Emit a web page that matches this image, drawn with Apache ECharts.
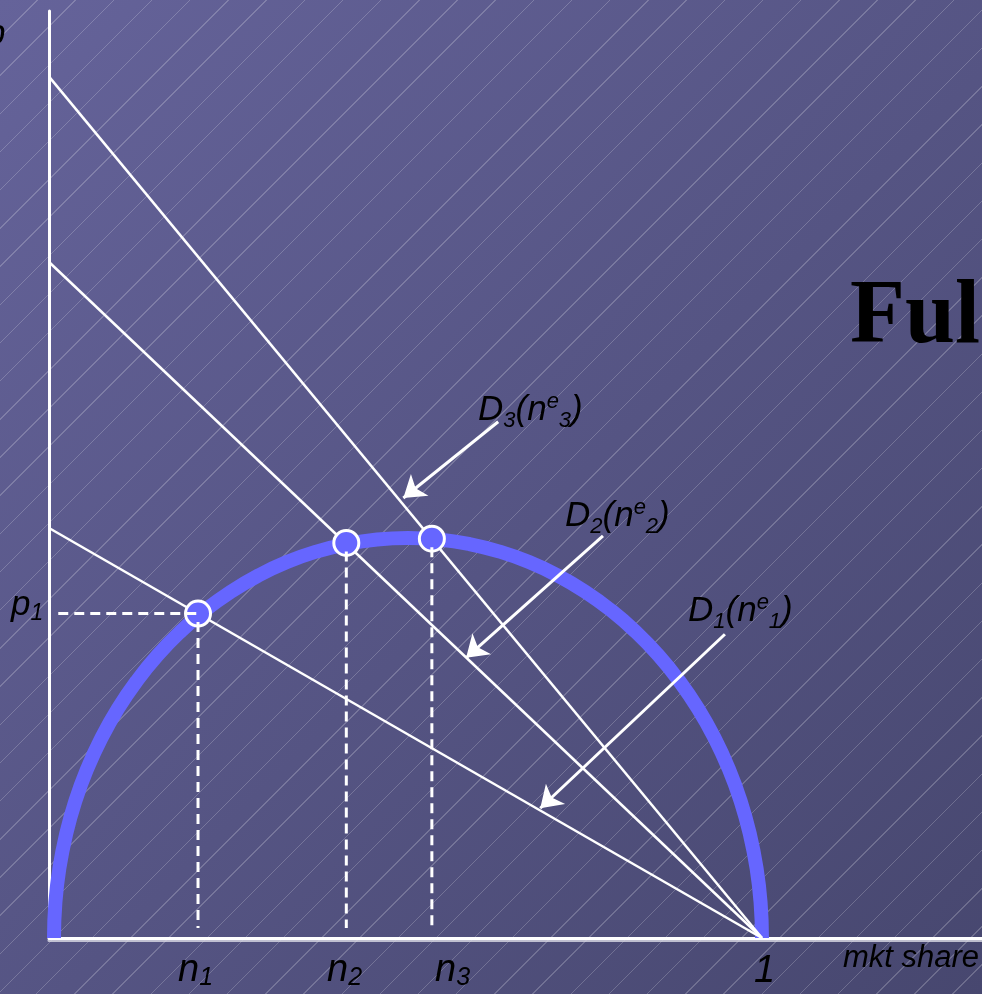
<!DOCTYPE html>
<html>
<head>
<meta charset="utf-8">
<script src="https://cdn.jsdelivr.net/npm/echarts@6/dist/echarts.min.js"></script>
<style>
  html, body { margin: 0; padding: 0; }
  body {
    width: 982px; height: 994px; overflow: hidden;
    background:
      repeating-linear-gradient(135deg, rgba(255,255,255,0) 0 26px, rgba(255,255,255,0.2) 26px 27px),
      linear-gradient(135deg, #65639a 0%, #47476f 100%);
  }
  #chart { width: 982px; height: 994px; }
</style>
</head>
<body>
<div id="chart"></div>
<script>
// market share (n) and price (p)
const curveN = [0.0070, 0.0089, 0.0145, 0.0239, 0.0369, 0.0535, 0.0735, 0.0968, 0.1232, 0.1524,
  0.1844, 0.2187, 0.2553, 0.2937, 0.3337, 0.3750, 0.4173, 0.4602, 0.5035, 0.5468, 0.5897,
  0.6320, 0.6733, 0.7133, 0.7518, 0.7883, 0.8226, 0.8546, 0.8838, 0.9102, 0.9335, 0.9535,
  0.9701, 0.9831, 0.9925, 0.9981, 1.0000];
const curveP = [0, 0.0489, 0.0974, 0.1452, 0.1919, 0.2371, 0.2805, 0.3218, 0.3606, 0.3967,
  0.4297, 0.4595, 0.4858, 0.5084, 0.5272, 0.5419, 0.5525, 0.5589, 0.5610, 0.5589, 0.5525,
  0.5419, 0.5272, 0.5084, 0.4858, 0.4595, 0.4297, 0.3967, 0.3606, 0.3218, 0.2805, 0.2371,
  0.1919, 0.1452, 0.0974, 0.0489, 0];

// demand curves D1..D3: price intercept, all end at n = 1
const demandIntercepts = [0.575, 0.948, 1.208];

// equilibria (circles)
const eqN = [0.209, 0.417, 0.537];
const eqP = [0.455, 0.554, 0.560];

// arrows pointing from labels to the demand lines [from, to]
const arrowFrom = [[0.948, 0.426], [0.777, 0.564], [0.630, 0.724]];
const arrowTo = [[0.689, 0.182], [0.585, 0.393], [0.497, 0.617]];

const xMax = 1.3086, yMax = 1.3;
const FONT = "'Liberation Sans', Arial, sans-serif";
const WHITE = '#ffffff';
const BLUE = '#6666ff';

const chart = echarts.init(document.getElementById('chart'));

const series = [];

series.push({
  name: 'curve', type: 'line', smooth: true, showSymbol: false, z: 2,
  data: curveN.map((n, i) => [n, curveP[i]]),
  lineStyle: { color: BLUE, width: 14 }
});

demandIntercepts.forEach((p0, i) => {
  series.push({
    name: 'D' + (i + 1), type: 'line', showSymbol: false, z: 3,
    data: [[0, p0], [1, 0]],
    lineStyle: { color: WHITE, width: 2.5 }
  });
});

series.push({
  name: 'eq', type: 'scatter', z: 5, symbolSize: 25,
  data: eqN.map((n, i) => [n, eqP[i]]),
  itemStyle: { color: BLUE, borderColor: WHITE, borderWidth: 3, opacity: 1 }
});

// dashed guides
const dash = { color: WHITE, width: 3, type: [10, 6] };
eqN.forEach((n, i) => {
  series.push({
    type: 'line', showSymbol: false, z: 6,
    data: [[n, eqP[i] - 0.012], [n, 0.014]],
    lineStyle: dash
  });
});
series.push({
  type: 'line', showSymbol: false, z: 6,
  data: [[0.013, eqP[0]], [eqN[0], eqP[0]]],
  lineStyle: dash
});

series.push({
  type: 'lines', coordinateSystem: 'cartesian2d', z: 7,
  symbol: ['none', 'arrow'], symbolSize: 21,
  data: arrowFrom.map((f, i) => ({ coords: [f, arrowTo[i]] })),
  lineStyle: { color: WHITE, width: 3, opacity: 1, curveness: 0 }
});

const axisStyle = {
  show: true,
  lineStyle: { color: WHITE, width: 3, shadowColor: 'rgba(220,220,230,0.8)', shadowOffsetY: 2 }
};

function richText(x, y, text, rich) {
  return { type: 'text', x: x, y: y, z: 100,
    style: { text: text, rich: rich, align: 'left', verticalAlign: 'top', textAlign: 'left', textVerticalAlign: 'top' } };
}

const it = (size, lh, extra) => Object.assign({ fontSize: size, fontStyle: 'italic', fontFamily: FONT,
  lineHeight: lh, fill: '#000', color: '#000' }, extra || {});

const richD = {
  d: it(35, 44),
  s: it(22, 14, { verticalAlign: 'bottom' }),
  e: it(22, 18, { verticalAlign: 'top', padding: [3, 0, 0, 0] })
};
const richN = {
  m: it(38, 42),
  s: it(25, 12, { verticalAlign: 'bottom' })
};
const richP = {
  m: it(35, 40),
  s: it(23, 12, { verticalAlign: 'bottom' })
};

const dLabels = [
  { x: 688, y: 589, i: 1 },
  { x: 565, y: 494, i: 2 },
  { x: 478, y: 388, i: 3 }
];
const nLabels = [{ x: 178, i: 1 }, { x: 327, i: 2 }, { x: 435, i: 3 }];

const graphic = [];
dLabels.forEach(l => graphic.push(richText(l.x, l.y,
  '{d|D}{s|' + l.i + '}{d|(n}{e|e}{s|' + l.i + '}{d|)}', richD)));
nLabels.forEach(l => graphic.push(richText(l.x, 949, '{m|n}{s|' + l.i + '}', richN)));
graphic.push(richText(754, 950, '{m|1}', richN));
graphic.push(richText(843, 940, '{k|mkt share}', { k: it(31, 36) }));
graphic.push(richText(11, 585, '{m|p}{s|1}', richP));
graphic.push(richText(-14, 14, '{m|p}', richP));
graphic.push({
  type: 'text', x: 850, y: 364, z: 100,
  style: {
    text: 'Ful', fontFamily: "'Liberation Serif', 'Times New Roman', serif",
    fontWeight: 'bold', fontSize: 90, fill: '#000',
    align: 'left', verticalAlign: 'bottom', textAlign: 'left', textVerticalAlign: 'bottom',
    textShadowColor: '#bcbcbc', textShadowOffsetX: 4, textShadowOffsetY: 3, textShadowBlur: 0
  }
});

chart.setOption({
  backgroundColor: 'transparent',
  animation: false,
  grid: { left: 49, right: 0, top: 11, bottom: 56, containLabel: false },
  xAxis: {
    type: 'value', min: 0, max: xMax,
    axisLine: axisStyle, axisTick: { show: false }, axisLabel: { show: false }, splitLine: { show: false }
  },
  yAxis: {
    type: 'value', min: 0, max: yMax,
    axisLine: { show: true, lineStyle: { color: WHITE, width: 3 } },
    axisTick: { show: false }, axisLabel: { show: false }, splitLine: { show: false }
  },
  series: series,
  graphic: graphic
});
</script>
</body>
</html>
